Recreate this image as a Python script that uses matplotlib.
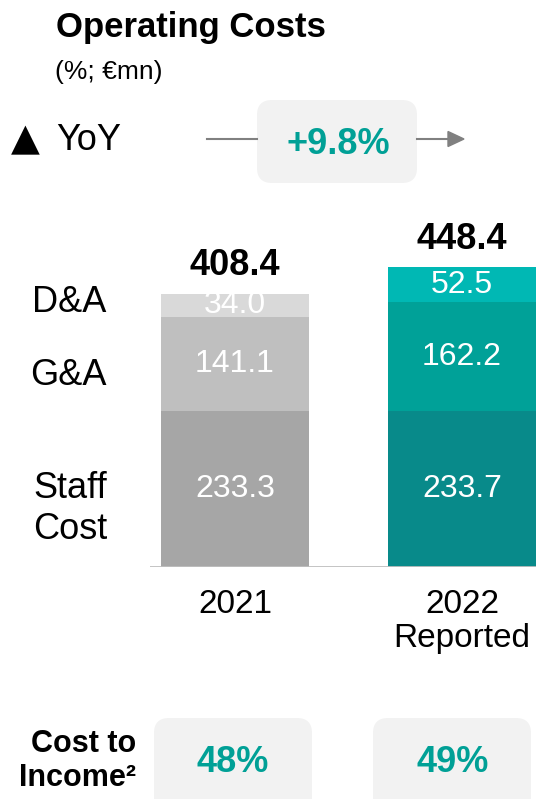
import matplotlib.pyplot as plt
from matplotlib.patches import FancyBboxPatch

plt.rcParams['font.family'] = ['Liberation Sans', 'DejaVu Sans']

years = ["2021", "2022\nReported"]
staff = [233.3, 233.7]
ga = [141.1, 162.2]
da = [34.0, 52.5]
totals = [408.4, 448.4]
cti = ["48%", "49%"]
yoy = "+9.8%"

grey_cols = ["#A6A6A6", "#BFBFBF", "#D9D9D9"]
teal_cols = ["#088A8A", "#00A198", "#00B8B4"]
teal_txt = "#00A096"

fig = plt.figure(figsize=(5.36, 7.99), dpi=100)
W, H = 536, 799

def fx(px):
    return px / W

def fy(py):
    return 1 - py / H

def rbox(x0, y0, x1, y1):
    # rounded grey box, pixel coords (top-left origin)
    b = FancyBboxPatch((fx(x0), fy(y1)), fx(x1 - x0), (y1 - y0) / H,
                       boxstyle="round,pad=0.0,rounding_size=0.028",
                       transform=fig.transFigure, facecolor='#F2F2F2',
                       edgecolor='none', figure=fig, mutation_aspect=W / H)
    fig.patches.append(b)

# bar axes: bottom at y=567px, left at 150px
ax = fig.add_axes([fx(150), fy(567), fx(386), (567 - 200) / H])
scale = 0.6685  # px per unit
ax.set_ylim(0, 367 / scale)
ax.set_xlim(-0.374, 1.326)
ax.axis('off')

x = [0, 1]
w = 0.652
for i in range(2):
    cols = grey_cols if i == 0 else teal_cols
    bottom = 0
    for val, c in zip([staff[i], ga[i], da[i]], cols):
        ax.bar(x[i], val, w, bottom=bottom, color=c, linewidth=0)
        ax.text(x[i], bottom + val / 2, f"{val:.1f}", ha='center', va='center',
                color='white', fontsize=23)
        bottom += val
    ax.text(x[i], totals[i] + 28, f"{totals[i]:.1f}", ha='center',
            va='baseline', fontsize=26, fontweight='bold')
    ax.text(x[i], -33, years[i], ha='center', va='top', fontsize=24,
            linespacing=1.12)

ax.axhline(0, color='#BFBFBF', linewidth=2, xmin=0, xmax=1)

# title
fig.text(fx(56), fy(28), "Operating Costs", fontsize=25, fontweight='bold',
         va='center', ha='left')
fig.text(fx(55), fy(72), "(%; €mn)", fontsize=19, va='center', ha='left')

# YoY row
fig.text(fx(11), fy(140), "▲", fontsize=27, va='center', ha='left',
         family=['DejaVu Sans'])
fig.text(fx(56), fy(140), "YoY", fontsize=26, va='center', ha='left')
fig.add_artist(plt.Line2D([fx(207), fx(257)], [fy(138.5), fy(138.5)],
                          color='#808080', linewidth=1.5))
fig.add_artist(plt.Line2D([fx(417), fx(450)], [fy(138.5), fy(138.5)],
                          color='#808080', linewidth=1.5))
fig.patches.append(plt.Polygon([[fx(448), fy(131.5)], [fx(464), fy(139)],
                                [fx(448), fy(146.5)]], closed=True,
                               color='#808080', transform=fig.transFigure,
                               figure=fig))
rbox(257, 100, 417, 183)
fig.text(fx(338), fy(144), yoy, fontsize=26, fontweight='bold', color=teal_txt,
         ha='center', va='center')

# left labels
fig.text(fx(32), fy(303), "D&A", fontsize=26, va='center', ha='left')
fig.text(fx(30), fy(375), "G&A", fontsize=26, va='center', ha='left')
fig.text(fx(33), fy(509), "Staff\nCost", fontsize=26, va='center', ha='left',
         linespacing=1.22)

# cost to income row
fig.text(fx(136), fy(761), "Cost to\nIncome²", fontsize=22, fontweight='bold',
         va='center', ha='right', linespacing=1.15)
box_x = [154, 373]
txt_x = [233, 453]
for bx, tx, lab in zip(box_x, txt_x, cti):
    rbox(bx, 718, bx + 158, 799 + 15)
    fig.text(fx(tx), fy(762), lab, fontsize=26, fontweight='bold',
             color=teal_txt, ha='center', va='center')

fig.savefig("out.png", dpi=100)
